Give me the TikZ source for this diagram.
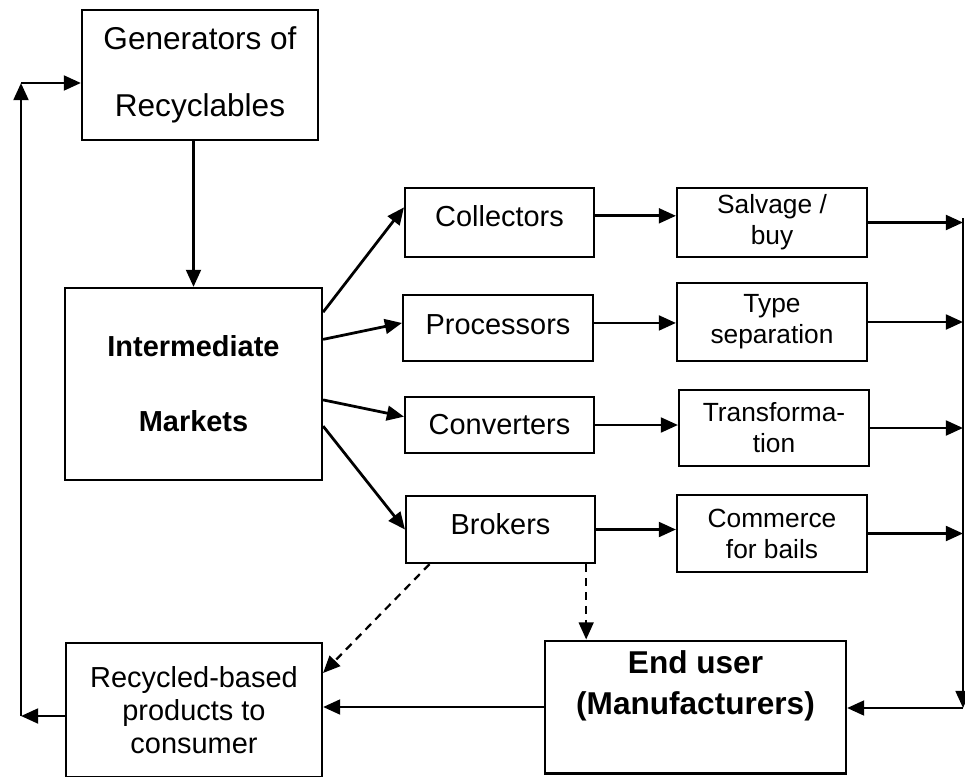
\documentclass[tikz,border=0pt]{standalone}
\usepackage{fontspec}
\setmainfont{Liberation Sans}
\usetikzlibrary{arrows.meta}

\begin{document}
\begin{tikzpicture}[x=0.38pt, y=-0.38pt,
    box/.style={draw, line width=0.8pt, inner sep=0pt, align=center},
    big/.style={font=\fontsize{12}{25.5}\selectfont},
    mid/.style={font=\fontsize{11}{12.5}\selectfont},
    small/.style={font=\fontsize{10}{11.8}\selectfont},
    link/.style={line width=1.05pt, -{Triangle[length=6.5pt,width=5.6pt]}},
    dashlink/.style={link, line width=0.85pt, dash pattern=on 3pt off 2.3pt}]

    \useasboundingbox (0, 0) rectangle (965, 776);

    % Declare the boxes
    \node[box, big, minimum width=89.7pt, minimum height=49.4pt] at (200, 75) (Gen) {Generators of\\Recyclables};
    \node[box, font=\fontsize{11}{28.5}\selectfont\bfseries, minimum width=97.7pt, minimum height=73pt] at (193.5, 384) (Inter) {Intermediate\\Markets};
    \node[box, mid, minimum width=71.8pt, minimum height=26.2pt, text depth=5pt] at (499.5, 222.5) (Coll) {Collectors};
    \node[box, mid, minimum width=72.2pt, minimum height=25.1pt, text depth=3pt] at (498, 328) (Proc) {Processors};
    \node[box, mid, minimum width=71.8pt, minimum height=21.3pt] at (499.5, 425) (Conv) {Converters};
    \node[box, mid, minimum width=71.8pt, minimum height=25.5pt, text depth=4pt] at (500.5, 529.5) (Brok) {Brokers};
    \node[box, small, minimum width=72.2pt, minimum height=26.2pt] at (772, 222.5) (Salv) {Salvage /\\buy};
    \node[box, small, minimum width=72.2pt, minimum height=29.6pt] at (772, 322) (Type) {Type\\separation};
    \node[box, small, minimum width=72.2pt, minimum height=28.9pt] at (774, 428) (Trans) {Transforma-\\tion};
    \node[box, small, minimum width=72.2pt, minimum height=29.3pt] at (772, 533.5) (Comm) {Commerce\\for bails};
    \node[box, minimum width=114.4pt, minimum height=50.5pt] at (695.5, 707) (End) {};
    \node[align=center, font=\fontsize{12}{15.6}\selectfont\bfseries] at (695.5, 686) (EndText) {End user\\(Manufacturers)};
    \node[box, mid, minimum width=97.3pt, minimum height=50.9pt] at (194, 710) (Recy) {Recycled-based\\products to\\consumer};

    % Declare corners of the loops
    \coordinate (L0) at (21, 716);
    \coordinate (L1) at (21, 83);
    \coordinate (R0) at (963, 218);
    \coordinate (R1) at (963, 708);

    % Declare edges
    \draw[link] (Gen.south -| Inter.north) -- (Inter.north);
    \draw[link] (Inter.29) -- (Coll.171);
    \draw[link] (Inter.19) -- (Proc.177);
    \draw[link] (Inter.-7) -- (Conv.175);
    \draw[link] (Inter.-18) -- (Brok.west);
    \draw[link] (Coll.4.5) -- (Coll.4.5 -| Salv.west);
    \draw[link] (Proc.3.6) -- (Proc.3.6 -| Type.west);
    \draw[link] (Conv.east) -- (Conv.east -| Trans.west);
    \draw[link] (Brok.east) -- (Brok.east -| Comm.west);
    \draw[link] (Salv.east) -- (Salv.east -| R0);
    \draw[link] (Type.east) -- (Type.east -| R0);
    \draw[link] (Trans.east) -- (Trans.east -| R0);
    \draw[link] (Comm.east) -- (Comm.east -| R0);
    \draw[link] (R0) -- (R1);
    \draw[link] (R1) -- (R1 -| End.east);
    \draw[link] (End.west) -- (End.west -| Recy.east);
    \draw[link] (Recy.west |- L0) -- (L0);
    \draw[link] (L0) -- (L1);
    \draw[link] (L1) -- (L1 -| Gen.west);

    % Declare dashed edges
    \draw[dashlink] (Brok.206) -- (Recy.16);
    \draw[dashlink] (Brok.-22.3) -- (Brok.-22.3 |- End.north);

\end{tikzpicture}
\end{document}
